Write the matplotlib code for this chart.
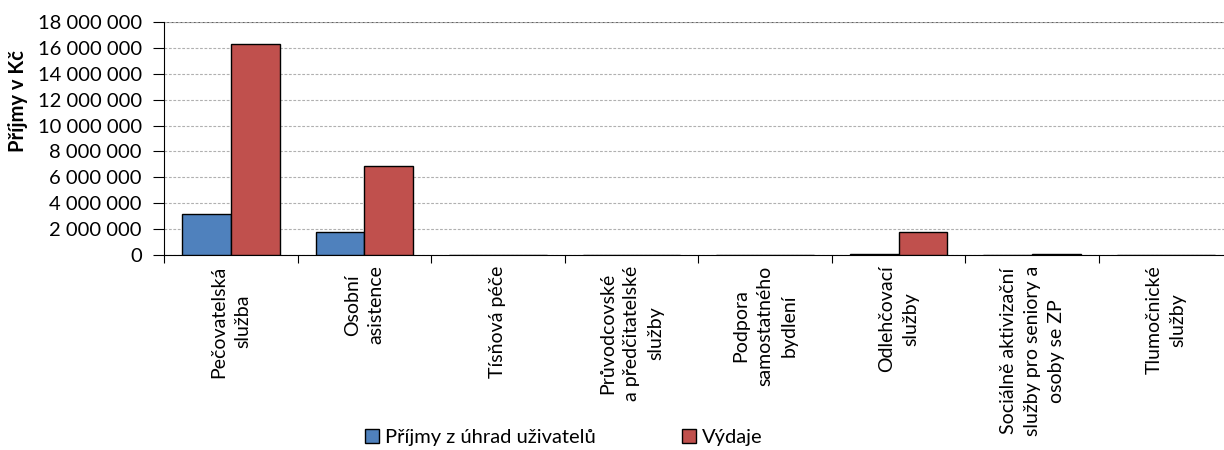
import matplotlib.pyplot as plt
import matplotlib.ticker as mticker
import numpy as np

plt.rcParams['font.family'] = ['Lato', 'DejaVu Sans']

categories = [
    "Pečovatelská\nslužba",
    "Osobní\nasistence",
    "Tísňová péče",
    "Průvodcovské\na předčitatelské\nslužby",
    "Podpora\nsamostatného\nbydlení",
    "Odlehčovací\nslužby",
    "Sociálně aktivizační\nslužby pro seniory a\nosoby se ZP",
    "Tlumočnické\nslužby",
]
prijmy = [3170000, 1780000, 0, 0, 0, 100000, 0, 0]
vydaje = [16300000, 6850000, 0, 0, 0, 1760000, 100000, 0]

series_labels = ["Příjmy z úhrad uživatelů", "Výdaje"]
colors = ["#4F81BD", "#C0504D"]


def fmt_space(v, pos):
    return f"{int(v):,}".replace(",", " ")


fig = plt.figure(figsize=(12.24, 4.5), dpi=100)
ax = fig.add_axes([0.134, 0.4333, 0.873, 0.518])

x = np.arange(len(categories))
w = 0.365
ax.bar(x - w / 2, prijmy, w, color=colors[0], edgecolor="black", linewidth=1.0,
       label=series_labels[0], zorder=3)
ax.bar(x + w / 2, vydaje, w, color=colors[1], edgecolor="black", linewidth=1.0,
       label=series_labels[1], zorder=3)

ax.set_xlim(-0.5, len(categories) - 0.5)
ax.set_ylim(0, 18000000)
ax.yaxis.set_major_locator(mticker.MultipleLocator(2000000))
ax.yaxis.set_major_formatter(mticker.FuncFormatter(fmt_space))
ax.grid(axis="y", linestyle=(0, (2.5, 1.5)), color="#b0b0b0", linewidth=0.8, zorder=0)
ax.axhline(18000000, color="#606060", linewidth=1.5, zorder=1)

for side in ["top", "right"]:
    ax.spines[side].set_visible(False)
ax.spines["left"].set_color("black")
ax.spines["bottom"].set_color("black")

ax.set_xticks(np.arange(len(categories) + 1) - 0.5)
ax.set_xticklabels([])
ax.tick_params(axis="x", direction="out", length=6, color="black")
ax.tick_params(axis="y", direction="out", length=8, labelsize=14.5, color="black",
               pad=8)

for i, lab in enumerate(categories):
    ax.text(i, -0.045, lab, transform=ax.get_xaxis_transform(), rotation=90,
            ha="center", va="top", multialignment="center", fontsize=14,
            linespacing=1.5)

ax.set_ylabel("Příjmy v Kč", fontsize=14.5, fontweight="bold")
ax.yaxis.set_label_coords(-0.127, 0.66)

fig.legend(loc="center left", bbox_to_anchor=(0.283, 0.027), ncol=2, frameon=False,
           fontsize=14.5, handlelength=0.7, handleheight=0.7, handletextpad=0.3,
           columnspacing=4.3)

plt.savefig("out.png", dpi=100)
plt.close()
